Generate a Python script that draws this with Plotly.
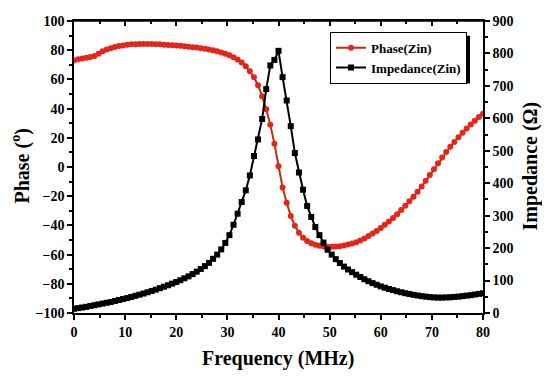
import plotly.graph_objects as go

freq = [0.0, 0.8, 1.6, 2.4, 3.2, 4.0, 4.8, 5.6, 6.4, 7.2, 8.0, 8.8, 9.6, 10.4, 11.2, 12.0, 12.8, 13.6, 14.4, 15.2,
        16.0, 16.8, 17.6, 18.4, 19.2, 20.0, 20.8, 21.6, 22.4, 23.2, 24.0, 24.8, 25.6, 26.4, 27.2, 28.0, 28.8, 29.6,
        30.4, 31.2, 32.0, 32.8, 33.6, 34.4, 35.2, 36.0, 36.8, 37.6, 38.4, 39.2, 40.0, 40.8, 41.6, 42.4, 43.2, 44.0,
        44.8, 45.6, 46.4, 47.2, 48.0, 48.8, 49.6, 50.4, 51.2, 52.0, 52.8, 53.6, 54.4, 55.2, 56.0, 56.8, 57.6, 58.4,
        59.2, 60.0, 60.8, 61.6, 62.4, 63.2, 64.0, 64.8, 65.6, 66.4, 67.2, 68.0, 68.8, 69.6, 70.4, 71.2, 72.0, 72.8,
        73.6, 74.4, 75.2, 76.0, 76.8, 77.6, 78.4, 79.2, 80.0]

phase = [73.0, 73.8, 74.4, 74.9, 75.4, 76.0, 77.6, 79.2, 80.4, 81.4, 82.2, 82.8, 83.3, 83.7, 84.0, 84.1, 84.2, 84.3,
         84.3, 84.2, 84.1, 84.0, 83.8, 83.6, 83.4, 83.2, 83.0, 82.7, 82.4, 82.1, 81.8, 81.4, 81.0, 80.5, 79.9, 79.2,
         78.4, 77.5, 76.5, 75.2, 73.6, 71.6, 69.0, 65.5, 61.5, 56.0, 48.5, 39.5, 29.0, 16.0, 0.5, -14.0, -24.5, -33.5,
         -40.2, -45.0, -48.5, -50.6, -52.2, -53.3, -54.0, -54.5, -54.7, -54.7, -54.5, -54.2, -53.7, -53.1, -52.4,
         -51.5, -50.3, -48.9, -47.3, -45.6, -43.8, -41.8, -39.6, -37.3, -34.9, -32.3, -29.5, -26.6, -23.5, -20.3,
         -16.9, -13.4, -9.5, -5.5, -1.5, 2.5, 6.5, 10.3, 13.8, 17.2, 20.4, 23.4, 26.3, 29.1, 31.7, 34.2, 36.5]

impedance = [13, 15, 17, 19, 21.5, 24, 26.5, 29, 31.5, 34, 37, 40, 43, 46, 49.5, 53, 56.5, 60, 64, 68,
             72, 76.5, 81, 85.5, 90.5, 95.5, 101, 107, 113, 120, 127.5, 135.5, 144.5, 154.5, 167, 180, 196, 216,
             240, 272, 306, 342, 378, 424, 484, 535, 598, 690, 763, 780, 808, 727, 655, 576, 493, 433,
             380, 330, 296, 265, 240, 217, 195, 180, 166, 154, 143, 134, 126, 118, 111, 104, 98, 92,
             87, 82, 78, 74, 70.5, 67, 64, 61, 58.5, 56, 54, 52, 50.5, 49, 48, 47.5, 47.5, 48,
             48.5, 49.5, 50.5, 52, 53.5, 55, 57, 59, 61]

x_ticks = [0, 10, 20, 30, 40, 50, 60, 70, 80]
phase_ticks = [-100, -80, -60, -40, -20, 0, 20, 40, 60, 80, 100]
imp_ticks = [0, 100, 200, 300, 400, 500, 600, 700, 800, 900]

FONT = "Liberation Serif"
tickfont = dict(family=FONT, size=14, color="black", weight="bold")
titlefont = dict(family=FONT, size=20, color="black", weight="bold")

fig = go.Figure()
fig.add_trace(go.Scatter(
    x=freq, y=phase, name="Phase(Zin)", mode="lines+markers",
    line=dict(color="#b8300f", width=2),
    marker=dict(symbol="circle", size=6, color="#e3261a", line=dict(width=0)),
    xaxis="x", yaxis="y"))
fig.add_trace(go.Scatter(
    x=freq, y=impedance, name="Impedance(Zin)", mode="lines+markers",
    line=dict(color="black", width=2),
    marker=dict(symbol="square", size=6, color="black", line=dict(width=0)),
    xaxis="x2", yaxis="y2"))

# the page body keeps an 8px default margin on every side; size the figure so
# that the page exactly fills the 550x378 window (no scrolling)
OFF = 8
W, H = 550 - 2 * OFF, 378 - 2 * OFF
L, R, T, B = 66, 59, 6, 57
pw, ph = W - L - R, H - T - B

def px(xp):
    return (xp - OFF - L) / pw

def py(yp):
    return (H - B - (yp - OFF)) / ph

fig.update_layout(
    width=W, height=H,
    margin=dict(l=L, r=R, t=T, b=B, pad=0),
    paper_bgcolor="white", plot_bgcolor="white",
    showlegend=True,
    legend=dict(x=px(330), y=py(25), xanchor="left", yanchor="top",
                bgcolor="white", bordercolor="black", borderwidth=1,
                font=dict(family=FONT, size=13, color="black", weight="bold"),
                tracegroupgap=0, itemwidth=30),
    xaxis=dict(range=[0, 80], tickvals=x_ticks, showline=True, linecolor="black", linewidth=1.5,
               ticks="outside", ticklen=5, tickwidth=1.5, tickcolor="black",
               minor=dict(dtick=5, ticks="outside", ticklen=3, tickwidth=1.5, tickcolor="black"),
               showgrid=False, zeroline=False, tickfont=tickfont),
    xaxis2=dict(range=[0, 80], overlaying="x", side="top", anchor="y2", tickvals=x_ticks, showticklabels=False,
                showline=True, linecolor="black", linewidth=1.5,
                ticks="inside", ticklen=5, tickwidth=1.5, tickcolor="black",
                minor=dict(dtick=5, ticks="inside", ticklen=3, tickwidth=1.5, tickcolor="black"),
                showgrid=False, zeroline=False),
    yaxis=dict(range=[-100, 100], tickvals=phase_ticks, showline=True, linecolor="black", linewidth=1.5,
               ticks="outside", ticklen=5, tickwidth=1.5, tickcolor="black", ticklabeloverflow="allow",
               minor=dict(dtick=10, ticks="outside", ticklen=3, tickwidth=1.5, tickcolor="black"),
               showgrid=False, zeroline=False, tickfont=tickfont),
    yaxis2=dict(range=[0, 900], tickvals=imp_ticks, overlaying="y", side="right", anchor="x2",
                showline=True, linecolor="black", linewidth=1.5,
                ticks="outside", ticklen=5, tickwidth=1.5, tickcolor="black", ticklabeloverflow="allow",
                minor=dict(dtick=50, ticks="outside", ticklen=3, tickwidth=1.5, tickcolor="black"),
                showgrid=False, zeroline=False, tickfont=tickfont),
    annotations=[
        dict(text="Frequency (MHz)", xref="paper", yref="paper", x=px(278), y=py(360),
             xanchor="center", yanchor="middle", showarrow=False, font=titlefont),
        dict(text="Phase (<sup>o</sup>)", xref="paper", yref="paper", x=px(21), y=py(163),
             xanchor="center", yanchor="middle", showarrow=False, textangle=-90, font=titlefont),
        dict(text="Impedance (Ω)", xref="paper", yref="paper", x=px(531), y=py(163),
             xanchor="center", yanchor="middle", showarrow=False, textangle=-90, font=titlefont),
    ],
    shapes=[dict(type="rect", xref="paper", yref="paper",
                 x0=px(334), x1=px(470), y0=py(78), y1=py(29),
                 fillcolor="black", line=dict(width=0), layer="above"),
            dict(type="line", xref="paper", yref="paper", x0=0, x1=1, y0=1, y1=1,
                 line=dict(color="black", width=1.5), layer="above")],
)

fig.write_html("out.html")
